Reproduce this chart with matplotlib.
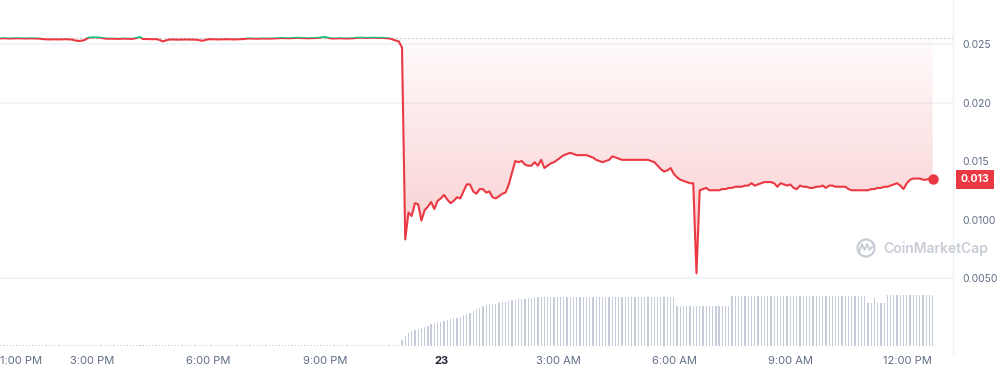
import numpy as np
import matplotlib
matplotlib.use('Agg')
import matplotlib.pyplot as plt
import matplotlib.transforms as mtransforms
from matplotlib.patches import Polygon, Rectangle, Ellipse
from matplotlib.lines import Line2D

plt.rcParams['font.family'] = ['Inter', 'DejaVu Sans']

#--------------------data (5 min candles, hours since 00:00 of the 22nd)--------------------
start_hour = 12.65
base_price = 0.02550      # opening price, dotted reference

price = [
    # quiet part before the crash
    0.02548, 0.02549, 0.02548, 0.02547, 0.02548, 0.02549, 0.02548, 0.02548, 0.02547, 0.02548,
    0.02548, 0.02547, 0.02546, 0.02542, 0.02540, 0.02539, 0.02540, 0.02540, 0.02539, 0.02540,
    0.02541, 0.02540, 0.02538, 0.02530, 0.02526, 0.02528, 0.02535, 0.02553, 0.02556, 0.02557,
    0.02556, 0.02553, 0.02548, 0.02545, 0.02546, 0.02545, 0.02544, 0.02545, 0.02546, 0.02545,
    0.02544, 0.02545, 0.02552, 0.02560, 0.02542, 0.02543, 0.02542, 0.02541, 0.02542, 0.02536,
    0.02522, 0.02530, 0.02538, 0.02539, 0.02538, 0.02537, 0.02538, 0.02539, 0.02538, 0.02538,
    0.02537, 0.02535, 0.02528, 0.02532, 0.02540, 0.02541, 0.02540, 0.02539, 0.02540, 0.02540,
    0.02541, 0.02540, 0.02539, 0.02540, 0.02541, 0.02542, 0.02546, 0.02547, 0.02546, 0.02545,
    0.02546, 0.02547, 0.02546, 0.02546, 0.02547, 0.02548, 0.02550, 0.02551, 0.02550, 0.02549,
    0.02550, 0.02552, 0.02553, 0.02551, 0.02550, 0.02549, 0.02550, 0.02551, 0.02552, 0.02556,
    0.02560, 0.02555, 0.02548, 0.02547, 0.02548, 0.02549, 0.02548, 0.02547, 0.02548, 0.02549,
    0.02553, 0.02554, 0.02553, 0.02552, 0.02553, 0.02554, 0.02553, 0.02552, 0.02553, 0.02550,
    0.02548, 0.02540, 0.02530, 0.02522, 0.02470,
    # crash and recovery
    0.0083,
    0.0106, 0.0103, 0.0114, 0.0113, 0.0099, 0.0108, 0.0111, 0.0115, 0.0109, 0.0116,
    0.0118, 0.0121, 0.0117, 0.0114, 0.0116, 0.0119, 0.0118, 0.0124, 0.0130, 0.0130,
    0.0124, 0.0122, 0.0126, 0.0126, 0.0123, 0.0124, 0.0119, 0.0118, 0.0120, 0.0122,
    0.0123, 0.0130, 0.0140, 0.0150, 0.0149, 0.0150, 0.0147, 0.0146, 0.0146, 0.0149,
    0.0146, 0.0151, 0.0144, 0.0146, 0.0148, 0.0149, 0.0151, 0.0153, 0.0155, 0.0156,
    0.0157, 0.0156, 0.0155, 0.0155, 0.0155, 0.0155, 0.0154, 0.0153, 0.0151, 0.0150,
    0.0149, 0.0150, 0.0151, 0.0154, 0.0153, 0.0152, 0.0151, 0.0151, 0.0151, 0.0151,
    0.0151, 0.0151, 0.0151, 0.0151, 0.0151, 0.0150, 0.0149, 0.0146, 0.0143, 0.0141,
    0.0142, 0.0144, 0.0139, 0.0136, 0.0134, 0.0133, 0.0132, 0.0131, 0.0131, 0.0054,
    0.0125, 0.0126, 0.0127, 0.0125, 0.0125, 0.0125, 0.0125, 0.0126, 0.0126, 0.0127,
    0.0127, 0.0128, 0.0128, 0.0128, 0.0129, 0.0129, 0.0131, 0.0129, 0.0130, 0.0131,
    0.0132, 0.0132, 0.0132, 0.0131, 0.0128, 0.0131, 0.0130, 0.0129, 0.0130, 0.0127,
    0.0126, 0.0129, 0.0128, 0.0128, 0.0127, 0.0127, 0.0128, 0.0128, 0.0129, 0.0127,
    0.0129, 0.0129, 0.0128, 0.0128, 0.0128, 0.0128, 0.0126, 0.0125, 0.0125, 0.0125,
    0.0125, 0.0125, 0.0125, 0.0126, 0.0126, 0.0127, 0.0127, 0.0128, 0.0128, 0.0129,
    0.0130, 0.0131, 0.0129, 0.0126, 0.0131, 0.0134, 0.0135, 0.0135, 0.0135, 0.0134,
    0.0134, 0.0135, 0.01345,
]

volume = [
    1, 1, 1, 1, 1, 1, 1, 1, 1, 1, 1, 1, 1, 1, 1, 1, 1, 1, 1, 1,
    1, 1, 1, 1, 1, 1, 1, 1, 1, 1, 1, 1, 1, 1, 1, 1, 1, 1, 1, 1,
    1, 1, 1, 1, 1, 1, 1, 1, 1, 1, 1, 1, 1, 1, 1, 1, 1, 1, 1, 1,
    1, 1, 1, 1, 1, 1, 1, 1, 1, 1, 1, 1, 1, 1, 1, 1, 1, 1, 1, 1,
    1, 1, 1, 1, 1, 1, 1, 1, 1, 1, 1, 1, 1, 1, 1, 1, 1, 1, 1, 1,
    1, 1, 1, 1, 1, 1, 1, 1, 1, 1, 1, 1, 1, 1, 1, 1, 1, 1, 1, 1,
    1, 1, 1, 1,
    6, 10, 13, 15, 16, 17, 18, 19, 20, 22,
    23, 24, 24, 25, 26, 27, 28, 28, 29, 31,
    32, 33, 35, 37, 38, 40, 41, 42, 42, 42,
    43, 44, 44, 45, 46, 46, 47, 47, 47, 48,
    48, 49, 49, 49, 49, 49, 49, 49, 49, 49,
    49, 49, 49, 49, 49, 49, 49, 49, 49, 49,
    49, 49, 49, 49, 49, 49, 49, 49, 49, 49,
    49, 49, 49, 49, 49, 49, 49, 49, 49, 49,
    49, 49, 49, 49, 49,
    40, 40, 40, 40, 40, 40, 40, 40, 40, 40, 40, 40, 40, 40, 40, 40, 40,
    50, 50, 50, 50, 50, 50, 50, 50, 50, 50, 50, 50, 50, 50, 50, 50, 50, 50, 50, 50, 50,
    50, 50, 50, 50, 50, 50, 50, 50, 50, 50, 50, 50, 50, 50, 50, 50, 50, 50, 50, 50, 50,
    43, 43, 48, 43, 43, 43,
    51, 51, 51, 51, 51, 51, 51, 51, 51, 51, 51, 51, 51, 51, 51,
]

xtick_hours = [13, 15, 18, 21, 24, 27, 30, 33, 36]
xtick_labels = ['1:00 PM', '3:00 PM', '6:00 PM', '9:00 PM', '23', '3:00 AM', '6:00 AM', '9:00 AM', '12:00 PM']
ytick_values = [0.005, 0.010, 0.015, 0.020, 0.025]
ytick_labels = ['0.0050', '0.0100', '0.015', '0.020', '0.025']
grid_values = [0.005, 0.020, 0.025]

red = '#ea3943'
green = '#16c784'
grey_text = '#616e85'

#--------------------plot--------------------
price = np.array(price)
volume = np.array(volume)
times = start_hour + np.arange(len(price)) / 12.0

W, H = 998, 371
fig = plt.figure(figsize=(W / 100, H / 100), dpi=100)
ax_bottom_px = 355
ax_right_px = 953
pos = [0, (H - ax_bottom_px) / H, ax_right_px / W, ax_bottom_px / H]

ax_vol = fig.add_axes(pos)
ax = fig.add_axes(pos)
ax.patch.set_visible(False)

xmin, xmax = 12.631, 37.173
ymin, ymax = -0.00158, 0.028761

# volume bars
ax_vol.bar(times, volume, width=0.032, color='#c5cddb', linewidth=0)
ax_vol.set_xlim(xmin, xmax)
ax_vol.set_ylim(-9, 346)
ax_vol.axis('off')

# light grid lines
for g in grid_values:
    ax.axhline(g, color='#eff2f5', lw=1.2, zorder=0)

# gradient fill between reference and price
below = np.minimum(price, base_price)
verts = list(zip(times, below)) + [(times[-1], base_price), (times[0], base_price)]
clip_poly = Polygon(verts, closed=True, facecolor='none', edgecolor='none', transform=ax.transData)
ax.add_patch(clip_poly)
grad = np.zeros((256, 1, 4))
grad[:, 0, 0] = 234 / 255
grad[:, 0, 1] = 57 / 255
grad[:, 0, 2] = 67 / 255
grad[:, 0, 3] = np.linspace(0.28, 0.02, 256)
im = ax.imshow(grad, extent=[times[0], times[-1], 0.005, base_price], aspect='auto',
               origin='lower', zorder=1, interpolation='bilinear')
im.set_clip_path(clip_poly)

# dotted reference line
ax.axhline(base_price, color='#a6b0c3', lw=0.9, linestyle=(0, (1, 2.2)), zorder=2)

# price line: red below the reference, green above it
red_line, = ax.plot(times, price, color=red, lw=1.5, zorder=3, solid_joinstyle='round')
green_line, = ax.plot(times, price, color=green, lw=1.5, zorder=3, solid_joinstyle='round')
red_clip = Rectangle((xmin, ymin), xmax - xmin, base_price - ymin, transform=ax.transData)
green_clip = Rectangle((xmin, base_price), xmax - xmin, ymax - base_price, transform=ax.transData)
red_line.set_clip_path(red_clip)
green_line.set_clip_path(green_clip)
ax.plot(times[-1], price[-1], 'o', color=red, ms=6.5, zorder=4)

ax.set_xlim(xmin, xmax)
ax.set_ylim(ymin, ymax)

# axes styling
for s in ['top', 'left', 'bottom']:
    ax.spines[s].set_visible(False)
ax.spines['right'].set_color('#eff2f5')
ax.spines['right'].set_linewidth(1)

ax.set_xticks(xtick_hours)
ax.set_xticklabels(xtick_labels)
ax.tick_params(axis='x', length=0, pad=0.5, labelsize=8, colors=grey_text)
for lab in ax.get_xticklabels():
    if lab.get_text() == '23':
        lab.set_fontweight('bold')
        lab.set_color('#222531')
# first label sits against the left edge, nudge it in so it stays readable
first = ax.get_xticklabels()[0]
first.set_transform(first.get_transform() + mtransforms.ScaledTranslation(7 / 100, 0, fig.dpi_scale_trans))

ax.yaxis.tick_right()
ax.set_yticks(ytick_values)
ax.set_yticklabels(ytick_labels)
ax.tick_params(axis='y', length=0, pad=6.5, labelsize=7.5, colors=grey_text)

# last price tag
ax.annotate(f'{price[-1]:.3f}', xy=(1.0, price[-1]), xycoords=('axes fraction', 'data'),
            xytext=(7.5, 0), textcoords='offset pixels', ha='left', va='center',
            fontsize=7.5, fontweight='bold', color='white', annotation_clip=False,
            bbox=dict(boxstyle='square,pad=0.42', fc=red, ec='none'))

# watermark
wm_color = '#c7ccd5'
fig.text(883 / W, (H - 249) / H, 'CoinMarketCap', fontsize=10, fontweight='semibold',
         color=wm_color, ha='left', va='center')
fig.add_artist(Ellipse((866 / W, (H - 248) / H), 17 / W, 17 / H, transform=fig.transFigure,
                       facecolor='none', edgecolor=wm_color, lw=1.6))
logo_x = np.array([859, 862, 864.5, 867, 869.5, 872]) / W
logo_y = (H - np.array([252, 244, 250, 244, 250, 247])) / H
fig.add_artist(Line2D(logo_x, logo_y, transform=fig.transFigure, color=wm_color, lw=1.4))

fig.savefig('out.png', dpi=100)
